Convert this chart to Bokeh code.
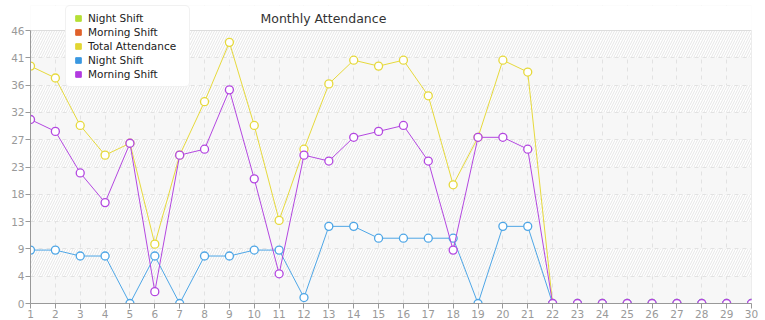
from bokeh.plotting import figure
from bokeh.models import (Range1d, FixedTicker, CustomJSTickFormatter, Legend, LegendItem,
                          ColumnDataSource, Label)
from bokeh.embed import file_html
from bokeh.resources import INLINE

# ---- data ----
days = list(range(1, 31))
night_shift = [9, 9, 8, 8, 0, 8, 0, 8, 8, 9, 9, 1, 13, 13, 11, 11, 11, 11, 0, 13, 13,
               0, 0, 0, 0, 0, 0, 0, 0, 0]
morning_shift = [31, 29, 22, 17, 27, 2, 25, 26, 36, 21, 5, 25, 24, 28, 29, 30, 24, 9, 28, 28, 26,
                 0, 0, 0, 0, 0, 0, 0, 0, 0]
total_attendance = [40, 38, 30, 25, 27, 10, 25, 34, 44, 30, 14, 26, 37, 41, 40, 41, 35, 20, 28, 41, 39,
                    0, 0, 0, 0, 0, 0, 0, 0, 0]
y_max = 46
y_ticks = [i * 4.6 for i in range(11)]
legend_labels = ["Night Shift", "Morning Shift", "Total Attendance", "Night Shift", "Morning Shift"]
legend_colors = ["#b5df35", "#e0622b", "#e2d633", "#3a98e0", "#b23ae0"]
title_text = "Monthly Attendance"

FONT = "DejaVu Sans"

# frame spans from near the top of the page so the legend can sit above the plot area
FRAME_TOP = 5
FRAME_BOTTOM = 303
PLOT_TOP = 30
y_end = y_max * (FRAME_BOTTOM - FRAME_TOP) / (FRAME_BOTTOM - PLOT_TOP)

p = figure(width=765, height=320, output_backend="svg", toolbar_location=None,
           x_range=Range1d(1, 30), y_range=Range1d(0, y_end),
           min_border_left=30, min_border_right=14, min_border_top=FRAME_TOP, min_border_bottom=0)
p.title.text = ""
p.title.visible = False

p.background_fill_color = "#f7f7f7"
p.border_fill_color = "white"
p.outline_line_color = None

# axes
p.xaxis.ticker = FixedTicker(ticks=days)
p.yaxis.ticker = FixedTicker(ticks=y_ticks)
p.yaxis.formatter = CustomJSTickFormatter(code="return Math.floor(tick + 1e-9).toString();")
p.yaxis.bounds = (0, y_max)
for ax in (p.xaxis[0], p.yaxis[0]):
    ax.axis_line_color = "#999999"
    ax.major_tick_line_color = "#999999"
    ax.major_tick_out = 5
    ax.major_tick_in = 0
    ax.minor_tick_line_color = None
    ax.major_label_text_color = "#999999"
    ax.major_label_text_font = FONT
    ax.major_label_text_font_size = "10.5px"
    ax.major_label_standoff = 1

# grid
for g in (p.xgrid[0], p.ygrid[0]):
    g.grid_line_color = "#e2e2e2"
    g.grid_line_dash = "4 4"
    g.grid_line_width = 1
p.ygrid.band_fill_color = "white"
p.ygrid.band_fill_alpha = 1
p.ygrid.band_hatch_pattern = "/"
p.ygrid.band_hatch_color = "#e6e6e6"
p.ygrid.band_hatch_scale = 5
p.ygrid.band_hatch_weight = 1

# white area above the plot region (title / legend zone)
p.quad(left=[1], right=[30], bottom=[y_max], top=[y_end], fill_color="white", line_color=None)
p.quad(left=[30], right=[31], bottom=[0], top=[y_end], fill_color="white", line_color=None)
# top and right border of the plot region
p.line(x=[1, 30, 30], y=[y_max, y_max, 0], line_color="#dddddd", line_width=1)

src = ColumnDataSource(dict(day=days, night=night_shift, morning=morning_shift, total=total_attendance))

series = [("total", "#e6d93c"), ("night", "#4ea6e6"), ("morning", "#b347e0")]
for col, color in series:
    p.line("day", col, source=src, line_color=color, line_width=1)
    p.scatter("day", col, source=src, size=8, marker="circle", fill_color="white",
              line_color=color, line_width=1.3)

# legend (square swatches)
nan = float("nan")
items = []
for lab, col in zip(legend_labels, legend_colors):
    r = p.scatter(x=[nan], y=[nan], marker="square", fill_color=col, line_color=col, size=6)
    items.append(LegendItem(label=lab, renderers=[r]))

legend = Legend(items=items, location=(35, FRAME_BOTTOM - 87))
legend.label_text_font = FONT
legend.label_text_font_size = "10.5px"
legend.label_text_color = "#222222"
legend.glyph_width = 14
legend.glyph_height = 14
legend.label_height = 14
legend.label_width = 96
legend.label_standoff = 3
legend.spacing = 0
legend.padding = 5
legend.margin = 0
legend.background_fill_color = "white"
legend.background_fill_alpha = 1
legend.border_line_color = "#e4e4e4"
if "border_radius" in Legend.properties():
    legend.border_radius = 5
p.add_layout(legend, "center")

title = Label(x=230, y=FRAME_BOTTOM - 18, x_units="screen", y_units="screen", text=title_text,
              text_font=FONT, text_font_size="12.5px", text_color="#333333",
              text_baseline="middle", text_align="left")
p.add_layout(title)

open("out.html", "w").write(file_html(p, INLINE))
